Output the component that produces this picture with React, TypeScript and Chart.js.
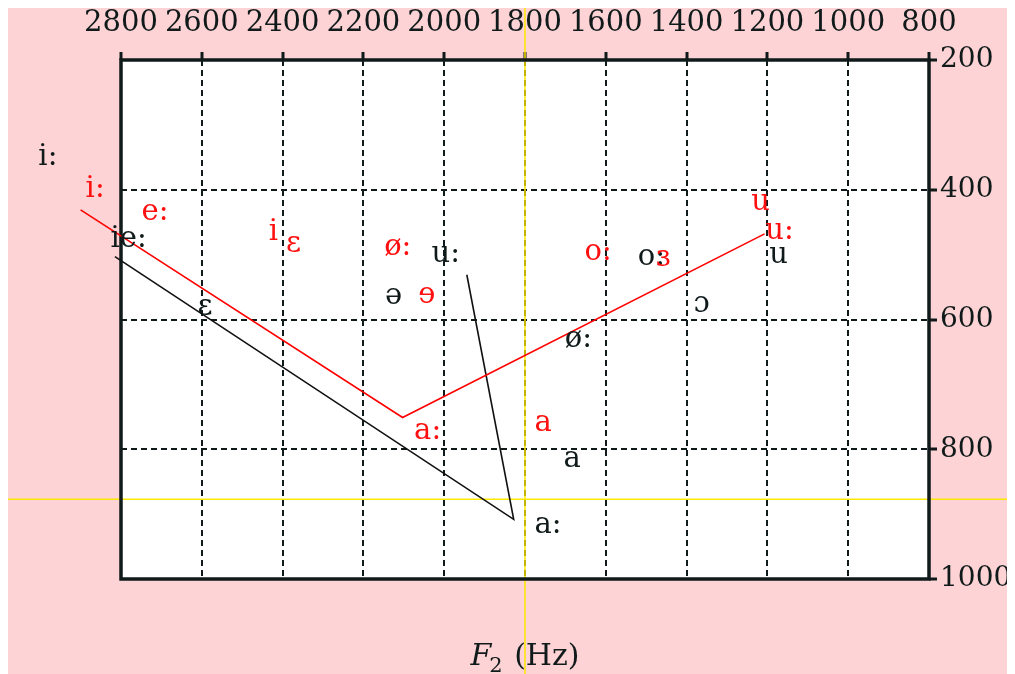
import { useEffect, useRef } from "react";
import { Chart, registerables } from "chart.js";

Chart.register(...registerables);

// Axis ticks (Hz)
const f2Ticks = [2800, 2600, 2400, 2200, 2000, 1800, 1600, 1400, 1200, 1000, 800];
const f1Ticks = [200, 400, 600, 800, 1000];

// Vowel trajectories (F2, F1 in Hz)
const redTrackF2 = [2900, 2103, 1207];
const redTrackF1 = [431, 751, 468];
const blackTrackF2 = [2815, 1828, 1944];
const blackTrackF1 = [503, 908, 531];

// Vowel symbols, red set
const redVowels = ["i:", "e:", "i", "ɛ", "ø:", "ɘ", "o:", "ɜ", "u", "u:", "a:", "a"];
const redVowelF2 = [2864, 2716, 2423, 2373, 2115, 2043, 1619, 1458, 1217, 1170, 2041, 1755];
const redVowelF1 = [400, 435, 466, 485, 489, 563, 497, 506, 420, 465, 772, 761];

// Vowel symbols, black set
const blackVowels = ["i:", "ie:", "ɛ", "u:", "ə", "o:", "ø:", "ɔ", "u", "a", "a:"];
const blackVowelF2 = [2981, 2781, 2592, 1996, 2125, 1487, 1668, 1363, 1172, 1683, 1743];
const blackVowelF1 = [351, 477, 581, 500, 565, 504, 631, 577, 501, 815, 918];

// Reference cross-hair (Hz)
const refF2 = 1800;
const refF1 = 877;

const SERIF = "'DejaVu Serif', serif";
const INK = "#101a1a";
const PINK = "#fdd3d5";

const vowelChartPlugin = {
  id: "vowelChart",
  beforeDraw(chart: any) {
    const { ctx, chartArea, width, height } = chart;
    ctx.save();
    ctx.fillStyle = PINK;
    ctx.fillRect(0, 0, width, height);
    ctx.fillStyle = "#ffffff";
    ctx.fillRect(chartArea.left, chartArea.top, chartArea.right - chartArea.left, chartArea.bottom - chartArea.top);
    ctx.restore();
  },
  beforeDatasetsDraw(chart: any) {
    const { ctx, chartArea, width, height, scales } = chart;
    const x = scales.x.getPixelForValue(refF2);
    const y = scales.y.getPixelForValue(refF1);
    ctx.save();
    ctx.strokeStyle = "#fbe800";
    ctx.lineWidth = 1.5;
    ctx.beginPath();
    ctx.moveTo(x, 0);
    ctx.lineTo(x, height);
    ctx.moveTo(0, y);
    ctx.lineTo(width, y);
    ctx.stroke();
    // plot frame
    ctx.strokeStyle = INK;
    ctx.lineWidth = 3.5;
    ctx.strokeRect(chartArea.left, chartArea.top, chartArea.right - chartArea.left, chartArea.bottom - chartArea.top);
    ctx.restore();
  },
  afterDatasetsDraw(chart: any) {
    const { ctx, chartArea, scales } = chart;
    ctx.save();
    ctx.font = `29px ${SERIF}`;
    ctx.textAlign = "center";
    ctx.textBaseline = "middle";
    const drawSet = (texts: string[], f2: number[], f1: number[], color: string) => {
      ctx.fillStyle = color;
      texts.forEach((t, i) => {
        ctx.fillText(t, scales.x.getPixelForValue(f2[i]), scales.y.getPixelForValue(f1[i]));
      });
    };
    drawSet(blackVowels, blackVowelF2, blackVowelF1, INK);
    drawSet(redVowels, redVowelF2, redVowelF1, "#ff1010");

    // axis title: F2 (Hz)
    const cx = (chartArea.left + chartArea.right) / 2;
    const base = chartArea.bottom + 86;
    const fMain = `italic 30px ${SERIF}`;
    const fSub = `21px ${SERIF}`;
    const fRest = `30px ${SERIF}`;
    ctx.textAlign = "left";
    ctx.textBaseline = "alphabetic";
    ctx.fillStyle = INK;
    ctx.font = fMain;
    const wF = ctx.measureText("F").width;
    ctx.font = fSub;
    const w2 = ctx.measureText("2").width;
    ctx.font = fRest;
    const wRest = ctx.measureText(" (Hz)").width;
    let sx = cx - (wF + w2 + wRest) / 2;
    ctx.font = fMain;
    ctx.fillText("F", sx, base);
    sx += wF - 2;
    ctx.font = fSub;
    ctx.fillText("2", sx, base + 7);
    sx += w2 + 2;
    ctx.font = fRest;
    ctx.fillText(" (Hz)", sx, base);
    ctx.restore();
  },
};

export default function App() {
  const canvasRef = useRef<HTMLCanvasElement | null>(null);

  useEffect(() => {
    const canvas = canvasRef.current;
    if (!canvas) return;
    const toPoints = (xs: number[], ys: number[]) => xs.map((x, i) => ({ x, y: ys[i] }));
    const plain = (v: any) => String(v);
    const chart = new Chart(canvas, {
      type: "scatter",
      data: {
        datasets: [
          {
            data: toPoints(redTrackF2, redTrackF1),
            showLine: true,
            borderColor: "#ff0000",
            borderWidth: 1.6,
            pointRadius: 0,
            clip: false as any,
          },
          {
            data: toPoints(blackTrackF2, blackTrackF1),
            showLine: true,
            borderColor: "#111111",
            borderWidth: 1.6,
            pointRadius: 0,
            clip: false as any,
          },
        ],
      },
      options: {
        responsive: false,
        animation: false,
        devicePixelRatio: 1,
        layout: { padding: { left: 113, right: 0, top: 0, bottom: 95 } },
        plugins: { legend: { display: false }, tooltip: { enabled: false } },
        events: [],
        scales: {
          x: {
            type: "linear",
            position: "top",
            reverse: true,
            min: 800,
            max: 2800,
            afterBuildTicks: (scale: any) => {
              scale.ticks = f2Ticks.map((v) => ({ value: v }));
            },
            afterFit: (scale: any) => {
              scale.height = 54;
            },
            ticks: {
              autoSkip: false,
              maxRotation: 0,
              minRotation: 0,
              padding: 11,
              color: INK,
              font: { family: SERIF, size: 29 },
              callback: plain,
            },
            grid: {
              color: INK,
              lineWidth: 2,
              tickLength: 8,
              tickWidth: 3,
              tickColor: INK,
              tickBorderDash: [],
            },
            border: { display: false, dash: [6, 4] },
          },
          y: {
            type: "linear",
            position: "right",
            reverse: true,
            min: 200,
            max: 1000,
            afterBuildTicks: (scale: any) => {
              scale.ticks = f1Ticks.map((v) => ({ value: v }));
            },
            afterFit: (scale: any) => {
              scale.width = 86;
            },
            ticks: {
              autoSkip: false,
              padding: 3,
              color: INK,
              font: { family: SERIF, size: 28 },
              callback: plain,
            },
            grid: {
              color: INK,
              lineWidth: 2,
              tickLength: 8,
              tickWidth: 3,
              tickColor: INK,
              tickBorderDash: [],
            },
            border: { display: false, dash: [6, 4] },
          },
        },
      } as any,
      plugins: [vowelChartPlugin],
    });
    return () => chart.destroy();
  }, []);

  return (
    <div style={{ width: 1007, height: 668, marginTop: -2 }}>
      <canvas ref={canvasRef} width={1007} height={668} style={{ display: "block", width: 1007, height: 668 }} />
    </div>
  );
}
